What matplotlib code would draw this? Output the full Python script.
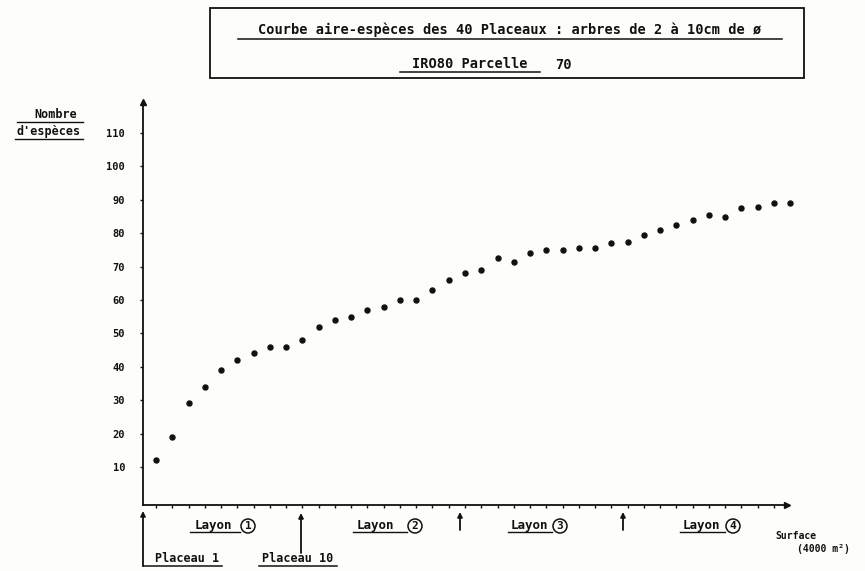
import matplotlib
matplotlib.use("Agg")
import matplotlib.pyplot as plt
from matplotlib.lines import Line2D

# ---- data ----
placeaux = list(range(1, 41))
especes = [12, 19, 29, 34, 39, 42, 44, 46, 46, 48,
           52, 54, 55, 57, 58, 60, 60, 63, 66, 68,
           69, 72.5, 71.5, 74, 75, 75, 75.5, 75.5, 77, 77.5,
           79.5, 81, 82.5, 84, 85.5, 85, 87.5, 88, 89, 89]
ytick_vals = [10, 20, 30, 40, 50, 60, 70, 80, 90, 100, 110]
xtick_vals = list(range(1, 40))
layon_names = ["1", "2", "3", "4"]

title1 = "Courbe aire-espèces des 40 Placeaux : arbres de 2 à 10cm de ø"
title2 = "IRO80 Parcelle"
title2b = "70"

W, H = 865, 571
BG = "#fdfdf9"
FONT = "DejaVu Sans Mono"

def fx(px):
    return px / W

def fy(py):
    return 1 - py / H

fig = plt.figure(figsize=(W / 100, H / 100), dpi=100, facecolor=BG)
ax = fig.add_axes([fx(142.5), fy(505), fx(787) - fx(142.5), fy(102) - fy(505)])
ax.set_facecolor(BG)
ax.set_xlim(0.17, 39.8)
ax.set_ylim(-1.4, 119.3)

ax.plot(placeaux, especes, linestyle="none", marker="o", ms=3.6,
        color="#111111", clip_on=False)

for s in ["top", "right"]:
    ax.spines[s].set_visible(False)
for s in ["left", "bottom"]:
    ax.spines[s].set_linewidth(1.3)
    ax.spines[s].set_color("#111111")

# arrow heads on axes
ax.plot(1, 0, marker=">", ms=5, color="#111111", transform=ax.transAxes, clip_on=False)
ax.plot(0, 1, marker="^", ms=5, color="#111111", transform=ax.transAxes, clip_on=False)

ax.set_yticks(ytick_vals)
ax.set_yticklabels([str(v) for v in ytick_vals], fontfamily=FONT,
                   fontweight="bold", fontsize=7.5)
ax.tick_params(axis="y", direction="out", length=2.5, width=1, pad=10,
               colors="#111111")
ax.set_xticks(xtick_vals)
ax.set_xticklabels([])
ax.tick_params(axis="x", direction="out", length=2.5, width=1, colors="#111111")

# ---- title box ----
fig.patches.append(plt.Rectangle((fx(210), fy(78)), fx(804) - fx(210), fy(8) - fy(78),
                                 transform=fig.transFigure, fill=False,
                                 ec="#111111", lw=1.3))
t1 = fig.text(fx(510), fy(30), title1, ha="center", va="center",
              fontfamily=FONT, fontweight="bold", fontsize=9.8, color="#111111")
fig.add_artist(Line2D([fx(238), fx(782)], [fy(38.5), fy(38.5)], color="#111111", lw=1.1))
fig.text(fx(470), fy(64), title2, ha="center", va="center",
         fontfamily=FONT, fontweight="bold", fontsize=9.8, color="#111111")
fig.add_artist(Line2D([fx(400), fx(540)], [fy(72), fy(72)], color="#111111", lw=1.1))
fig.text(fx(563), fy(65), title2b, ha="center", va="center",
         fontfamily=FONT, fontweight="bold", fontsize=9.8, color="#111111")

# ---- y label ----
fig.text(fx(56), fy(115), "Nombre", ha="center", va="center",
         fontfamily=FONT, fontweight="bold", fontsize=8.5, color="#111111")
fig.add_artist(Line2D([fx(17), fx(83)], [fy(121.5), fy(121.5)], color="#111111", lw=1))
fig.text(fx(49), fy(132), "d'espèces", ha="center", va="center",
         fontfamily=FONT, fontweight="bold", fontsize=8.5, color="#111111")
fig.add_artist(Line2D([fx(15), fx(83)], [fy(139), fy(139)], color="#111111", lw=1))

# ---- x annotations ----
fig.text(fx(775), fy(536), "Surface", ha="left", va="center",
         fontfamily=FONT, fontweight="bold", fontsize=7, color="#111111")
fig.text(fx(797), fy(549), "(4000 m²)", ha="left", va="center",
         fontfamily=FONT, fontweight="bold", fontsize=7, color="#111111")

# Layon labels
layon_pos = [(190, 237, 248), (353, 398, 415), (508, 550, 560), (680, 722, 733)]
for name, (x0, x1, xc) in zip(layon_names, layon_pos):
    fig.text(fx((x0 + x1) / 2), fy(525), "Layon", ha="center", va="center",
             fontfamily=FONT, fontweight="bold", fontsize=9, color="#111111")
    fig.add_artist(Line2D([fx(x0), fx(xc - 8)], [fy(532), fy(532)], color="#111111", lw=1))
    fig.text(fx(xc), fy(526), name, ha="center", va="center",
             fontfamily=FONT, fontweight="bold", fontsize=8, color="#111111",
             bbox=dict(boxstyle="circle,pad=0.18", fc="none", ec="#111111", lw=1.1))

arrow_kw = dict(arrowstyle="-|>", lw=1.3, color="#111111", mutation_scale=7,
                shrinkA=0, shrinkB=0)
# Placeau 1 bracket arrow
ax.annotate("", xy=(fx(143), fy(511)), xytext=(fx(143), fy(566)),
            xycoords="figure fraction", textcoords="figure fraction", arrowprops=arrow_kw)
fig.add_artist(Line2D([fx(143), fx(222)], [fy(566), fy(566)], color="#111111", lw=1.1))
fig.text(fx(187), fy(559), "Placeau 1", ha="center", va="center",
         fontfamily=FONT, fontweight="bold", fontsize=8.5, color="#111111")

# Placeau 10 arrow
ax.annotate("", xy=(fx(301), fy(513)), xytext=(fx(301), fy(553)),
            xycoords="figure fraction", textcoords="figure fraction", arrowprops=arrow_kw)
fig.text(fx(298), fy(559), "Placeau 10", ha="center", va="center",
         fontfamily=FONT, fontweight="bold", fontsize=8.5, color="#111111")
fig.add_artist(Line2D([fx(259), fx(337)], [fy(566), fy(566)], color="#111111", lw=1.1))

# short transect boundary arrows
for xp in [460, 623]:
    ax.annotate("", xy=(fx(xp), fy(512)), xytext=(fx(xp), fy(530)),
                xycoords="figure fraction", textcoords="figure fraction",
                arrowprops=arrow_kw)

fig.savefig("out.png", dpi=100, facecolor=BG)
